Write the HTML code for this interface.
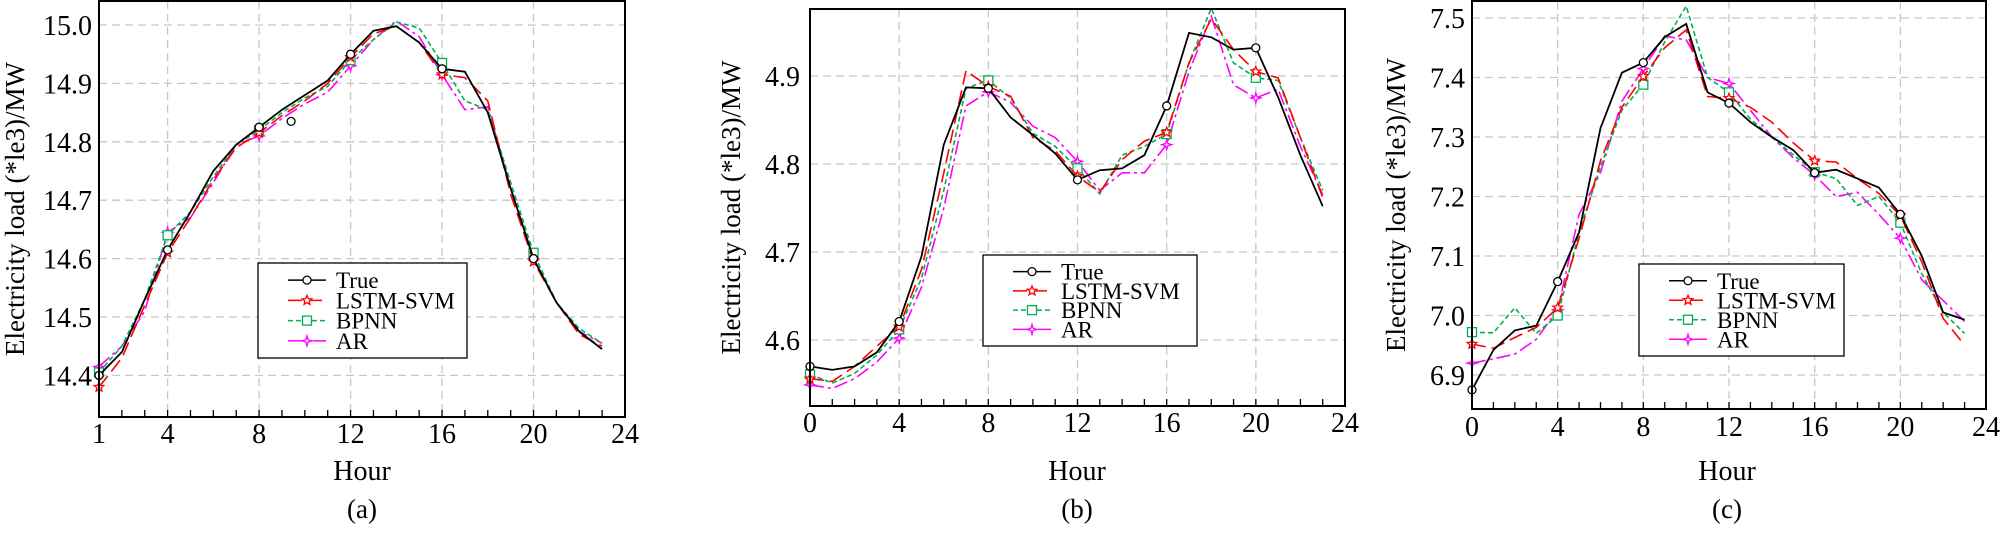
<!DOCTYPE html>
<html><head><meta charset="utf-8"><style>
html,body{margin:0;padding:0;background:#fff;}
svg text{font-family:"Liberation Serif",serif;fill:#000;}
</style></head><body>
<svg id="s" xmlns="http://www.w3.org/2000/svg" width="2000" height="529" viewBox="0 0 2000 529"></svg>
<script>
const S=document.getElementById('s');const NS='http://www.w3.org/2000/svg';
function el(t,a,txt){const e=document.createElementNS(NS,t);for(const k in a)e.setAttribute(k,a[k]);if(txt!==undefined)e.textContent=txt;S.appendChild(e);return e;}
const COL={t:'#000',l:'#ff0000',b:'#00b050',a:'#ff00ff'};
const DASH={t:'',l:'14,6',b:'5,3',a:'14,4,3,4'};
function marker(k,x,y){
 if(k=='t')el('circle',{cx:x,cy:y,r:4,fill:'#fff',stroke:'#000','stroke-width':1.3});
 else if(k=='b')el('rect',{x:x-4.5,y:y-4.5,width:9,height:9,fill:'#fff',stroke:COL.b,'stroke-width':1.3});
 else if(k=='l'){let p='';for(let i=0;i<10;i++){const r=i%2?2.2:5;const a=-Math.PI/2+i*Math.PI/5;p+=(x+r*Math.cos(a)).toFixed(1)+','+(y+r*Math.sin(a)).toFixed(1)+' ';}el('polygon',{points:p,fill:'#fff',stroke:COL.l,'stroke-width':1.3});}
 else {let p='';for(let i=0;i<8;i++){const r=i%2?1.6:5;const a=-Math.PI/2+i*Math.PI/4;p+=(x+r*Math.cos(a)).toFixed(1)+','+(y+r*Math.sin(a)).toFixed(1)+' ';}el('polygon',{points:p,fill:'#fff',stroke:COL.a,'stroke-width':1.3});}
}
function panel(P){
 const X=h=>P.x0+(h-P.h0)/(P.h1-P.h0)*(P.x1-P.x0);
 const Y=v=>P.yr+(P.vr-v)*P.sc;
 // grid
 P.yt.forEach(v=>el('line',{x1:P.x0,x2:P.x1,y1:Y(v),y2:Y(v),stroke:'#c8c8c8','stroke-width':1.3,'stroke-dasharray':'8,5'}));
 [4,8,12,16,20].forEach(h=>el('line',{x1:X(h),x2:X(h),y1:P.top,y2:P.bot,stroke:'#c8c8c8','stroke-width':1.3,'stroke-dasharray':'8,5'}));
 // minor ticks
 for(let h=P.h0;h<=24;h++)el('line',{x1:X(h),x2:X(h),y1:P.bot,y2:P.bot-7,stroke:'#000','stroke-width':1.3});
 // series
 ['a','b','l','t'].forEach(k=>{
  const d=P.d[k];let pts=d.map((v,i)=>X(P.h0+i).toFixed(1)+','+Y(v).toFixed(1)).join(' ');
  el('polyline',{points:pts,fill:'none',stroke:COL[k],'stroke-width':k=='t'?1.8:1.6,'stroke-dasharray':DASH[k]});
  d.forEach((v,i)=>{const h=P.h0+i;if(i==0||h%4==0)marker(k,X(h),Y(v));});
 });
 if(P.extra)marker('t',X(P.extra[0]),Y(P.extra[1]));
 el('rect',{x:P.x0,y:P.top,width:P.x1-P.x0,height:P.bot-P.top,fill:'none',stroke:'#000','stroke-width':2});
 // tick labels
 P.yt.forEach(v=>el('text',{x:P.ylx,y:Y(v)+10,'text-anchor':'end','font-size':28},v.toFixed(1)));
 P.xt.forEach(h=>el('text',{x:X(h),y:P.xly,'text-anchor':'middle','font-size':28},String(h)));
 el('text',{x:P.hx,y:480,'text-anchor':'middle','font-size':28},'Hour');
 el('text',{x:P.hx,y:518,'text-anchor':'middle','font-size':27},P.lab);
 const ty=(P.top+P.bot)/2;
 el('text',{x:P.ttx,y:ty,'text-anchor':'middle','font-size':27,transform:'rotate(-90 '+P.ttx+' '+ty+')'},'Electricity load (*le3)/MW');
 // legend
 const L=P.leg;el('rect',{x:L[0],y:L[1],width:L[2],height:L[3],fill:'#fff',stroke:'#000','stroke-width':1.3});
 const names={t:'True',l:'LSTM-SVM',b:'BPNN',a:'AR'};
 const rh=(L[3]-14)/4;
 ['t','l','b','a'].forEach((k,i)=>{const y=L[1]+7+rh*(i+0.5);
  el('line',{x1:L[0]+30,x2:L[0]+68,y1:y,y2:y,stroke:COL[k],'stroke-width':1.6,'stroke-dasharray':DASH[k]});
  marker(k,L[0]+49,y);
  el('text',{x:L[0]+78,y:y+8,'font-size':23},names[k]);});
}
panel({x0:99,x1:625,h0:1,h1:24,top:1,bot:417,yr:25,vr:15.0,sc:584,yt:[14.4,14.5,14.6,14.7,14.8,14.9,15.0],xt:[1,4,8,12,16,20,24],ylx:92,xly:443,hx:362,ttx:24,lab:'(a)',leg:[258,263,209,95],extra:[9.4,14.835],
 d:{t:[14.40,14.44,14.53,14.615,14.68,14.75,14.795,14.825,14.855,14.88,14.905,14.95,14.99,14.998,14.97,14.925,14.92,14.85,14.72,14.6,14.525,14.475,14.445],
 l:[14.38,14.43,14.52,14.61,14.67,14.735,14.79,14.815,14.845,14.87,14.9,14.945,14.985,14.998,14.97,14.915,14.91,14.87,14.71,14.595,14.525,14.47,14.45],
 b:[14.405,14.45,14.53,14.64,14.68,14.74,14.795,14.82,14.85,14.875,14.895,14.94,14.975,15.005,14.995,14.935,14.87,14.855,14.73,14.61,14.525,14.48,14.455],
 a:[14.415,14.45,14.51,14.645,14.67,14.73,14.795,14.81,14.84,14.865,14.885,14.93,14.975,15.007,14.98,14.915,14.855,14.86,14.72,14.60,14.525,14.475,14.455]}});
panel({x0:810,x1:1345,h0:0,h1:24,top:9,bot:406,yr:76,vr:4.9,sc:880,yt:[4.6,4.7,4.8,4.9],xt:[0,4,8,12,16,20,24],ylx:800,xly:432,hx:1077,ttx:740,lab:'(b)',leg:[983,255,214,91],
 d:{t:[4.570,4.566,4.570,4.586,4.621,4.695,4.822,4.887,4.886,4.853,4.833,4.812,4.782,4.793,4.795,4.810,4.866,4.949,4.944,4.930,4.932,4.876,4.810,4.752],
 l:[4.556,4.553,4.570,4.593,4.615,4.68,4.79,4.906,4.888,4.877,4.83,4.815,4.786,4.768,4.805,4.826,4.836,4.915,4.965,4.93,4.905,4.898,4.83,4.762],
 b:[4.561,4.551,4.562,4.583,4.612,4.67,4.77,4.886,4.895,4.875,4.835,4.82,4.795,4.766,4.81,4.82,4.834,4.915,4.977,4.915,4.898,4.895,4.83,4.77],
 a:[4.549,4.545,4.556,4.575,4.602,4.66,4.75,4.866,4.882,4.87,4.843,4.83,4.803,4.77,4.79,4.79,4.822,4.905,4.968,4.89,4.875,4.885,4.82,4.765]}});
panel({x0:1472,x1:1986,h0:0,h1:24,top:1,bot:409,yr:18,vr:7.5,sc:595,yt:[6.9,7.0,7.1,7.2,7.3,7.4,7.5],xt:[0,4,8,12,16,20,24],ylx:1465,xly:436,hx:1727,ttx:1405,lab:'(c)',leg:[1639,264,205,92],
 d:{t:[6.875,6.942,6.975,6.983,7.057,7.14,7.315,7.408,7.425,7.468,7.49,7.375,7.357,7.325,7.30,7.278,7.24,7.245,7.23,7.215,7.17,7.10,7.005,6.993],
 l:[6.952,6.945,6.963,6.98,7.013,7.13,7.26,7.35,7.402,7.45,7.48,7.368,7.365,7.35,7.325,7.29,7.26,7.258,7.23,7.205,7.168,7.09,6.995,6.95],
 b:[6.972,6.971,7.013,6.97,7.0,7.14,7.25,7.345,7.388,7.46,7.52,7.40,7.375,7.33,7.30,7.27,7.241,7.23,7.185,7.20,7.156,7.07,7.005,6.97],
 a:[6.92,6.927,6.935,6.96,7.01,7.17,7.24,7.36,7.415,7.47,7.463,7.40,7.39,7.345,7.30,7.265,7.236,7.20,7.207,7.17,7.13,7.06,7.025,6.99]}});
</script>
</body></html>
